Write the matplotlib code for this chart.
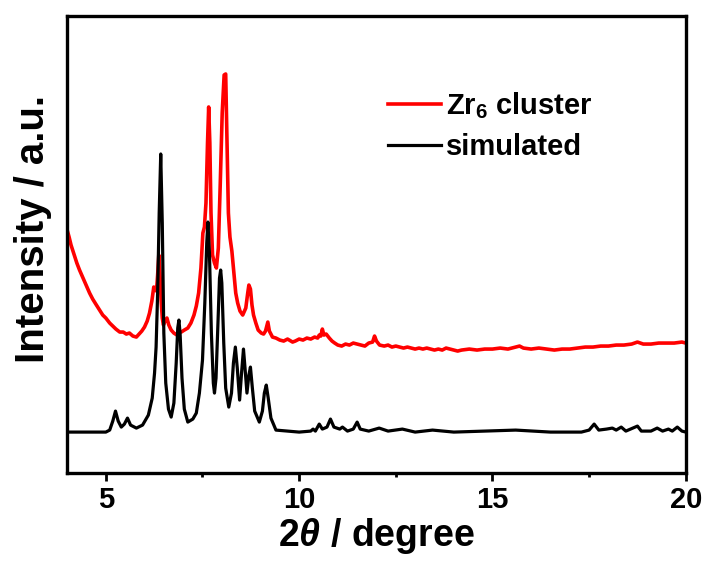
import matplotlib
matplotlib.use("Agg")
import matplotlib.pyplot as plt
from matplotlib.ticker import MultipleLocator

plt.rcParams['font.family'] = ['Liberation Sans', 'DejaVu Sans']
plt.rcParams['font.weight'] = 'bold'
plt.rcParams['mathtext.fontset'] = 'custom'
plt.rcParams['mathtext.rm'] = 'Liberation Sans:bold'
plt.rcParams['mathtext.bf'] = 'Liberation Sans:bold'
plt.rcParams['mathtext.it'] = 'Liberation Sans:italic:bold'
plt.rcParams['mathtext.bfit'] = 'Liberation Sans:italic:bold'

# simulated pattern (2theta, intensity a.u.)
sim_x = [4.0, 5.0, 5.1, 5.18, 5.25, 5.32, 5.4, 5.48, 5.56, 5.64, 5.79, 5.95,
         6.1, 6.2, 6.26, 6.3, 6.34, 6.38, 6.42, 6.46, 6.5, 6.55, 6.62, 6.69,
         6.76, 6.82, 6.86, 6.89, 6.92, 6.97, 7.03, 7.12, 7.25, 7.34, 7.42, 7.5,
         7.56, 7.61, 7.64, 7.68, 7.73, 7.78, 7.81, 7.85, 7.9, 7.94, 7.97, 8.0,
         8.05, 8.1, 8.18, 8.25, 8.3, 8.35, 8.4, 8.46, 8.51, 8.56, 8.6, 8.65,
         8.7, 8.74, 8.79, 8.85, 8.97, 9.05, 9.1, 9.15, 9.2, 9.27, 9.4, 10.0,
         10.3, 10.36, 10.42, 10.52, 10.6, 10.72, 10.81, 10.9, 11.05, 11.12,
         11.25, 11.4, 11.5, 11.58, 11.8, 12.07, 12.3, 12.67, 13.0, 13.45, 14.0,
         15.6, 16.5, 17.3, 17.5, 17.63, 17.75, 17.95, 18.1, 18.2, 18.33, 18.45,
         18.75, 18.85, 19.1, 19.26, 19.4, 19.55, 19.65, 19.78, 19.9, 20.0]
sim_y = [41, 41, 43, 52, 62, 52, 46, 49, 55, 48, 45, 48,
         58, 75, 100, 126, 180, 260, 319, 250, 140, 90, 64, 56,
         70, 110, 145, 153, 140, 95, 64, 51, 54, 60, 80, 113,
         170, 230, 251, 220, 140, 90, 80, 95, 150, 195, 203, 190,
         130, 85, 66, 80, 110, 126, 105, 73, 100, 124, 105, 80,
         98, 106, 85, 62, 51, 62, 80, 88, 75, 55, 43, 41,
         42, 44, 42, 49, 44, 46, 54, 46, 44, 46,
         42, 44, 51, 44, 42, 45, 42, 44, 41, 43, 41,
         43, 41, 41, 43, 49, 43, 44, 45, 43, 46, 42,
         47, 42, 42, 45, 42, 44, 42, 46, 42, 41]

exp_x = [4.00, 4.05, 4.10, 4.15, 4.20, 4.25, 4.32, 4.40, 4.48, 4.58, 4.66,
         4.74, 4.84, 4.92, 5.00, 5.10, 5.18, 5.26, 5.36, 5.45, 5.53, 5.61,
         5.70, 5.79, 5.86, 5.93, 6.00, 6.07, 6.13, 6.19, 6.24, 6.28, 6.31,
         6.34, 6.37, 6.40, 6.43, 6.46, 6.49, 6.53, 6.58, 6.63, 6.69, 6.76,
         6.84, 6.90, 6.95, 7.03, 7.12, 7.20, 7.28, 7.34, 7.40, 7.46, 7.51,
         7.55, 7.59, 7.63, 7.66, 7.69, 7.72, 7.76, 7.81, 7.86, 7.91, 7.96,
         8.01, 8.06, 8.10, 8.13, 8.17, 8.21, 8.26, 8.30, 8.36, 8.41, 8.47,
         8.54, 8.62, 8.67, 8.70, 8.74, 8.78, 8.82, 8.88, 8.94, 9.02, 9.08,
         9.13, 9.19, 9.23, 9.31, 9.40, 9.50, 9.60, 9.70, 9.83, 9.90, 10.0,
         10.1, 10.2, 10.3, 10.4, 10.48, 10.52, 10.56, 10.6, 10.64, 10.7,
         10.78, 10.85, 10.92, 11.0, 11.1, 11.2, 11.3, 11.4, 11.5, 11.6, 11.7,
         11.8, 11.9, 11.95, 12.0, 12.08, 12.2, 12.3, 12.4, 12.5, 12.6, 12.7,
         12.8, 12.9, 13.0, 13.1, 13.2, 13.3, 13.4, 13.5, 13.6, 13.7, 13.8,
         13.9, 14.0, 14.1, 14.2, 14.4, 14.6, 14.8, 15.0, 15.2, 15.4, 15.6,
         15.7, 15.8, 16.0, 16.2, 16.4, 16.6, 16.8, 17.0, 17.2, 17.4, 17.6,
         17.8, 18.0, 18.2, 18.4, 18.6, 18.75, 18.9, 19.1, 19.3, 19.5, 19.7,
         19.9, 20.0]
exp_y = [243, 236, 228, 222, 216, 210, 203, 196, 189, 180, 174,
         169, 163, 158, 155, 150, 147, 144, 141, 141, 139, 140,
         137, 136, 139, 142, 146, 152, 160, 172, 186, 184, 182,
         198, 218, 200, 173, 155, 148, 152, 155, 148, 143, 140,
         138, 141, 141, 143, 145, 150, 158, 167, 180, 205, 240,
         246, 270, 330, 366, 330, 260, 218, 210, 205, 225, 290,
         360, 398, 399, 340, 260, 236, 222, 205, 180, 170, 162,
         158, 165, 180, 188, 184, 168, 158, 150, 143, 140, 139,
         142, 151, 142, 136, 135, 133, 132, 134, 131, 132, 134,
         133, 135, 134, 136, 135, 138, 137, 144, 138, 139,
         135, 132, 130, 128, 127, 129, 128, 130, 129, 128, 127,
         130, 131, 137, 132, 128, 127, 128, 126, 127, 126, 125,
         126, 125, 124, 125, 124, 125, 124, 123, 124, 123, 125,
         124, 123, 122, 123, 124, 123, 124, 124, 125, 124, 126,
         127, 125, 124, 125, 124, 123, 124, 124, 125, 126, 126,
         127, 127, 128, 128, 129, 131, 129, 129, 130, 130, 130,
         131, 130]

fig = plt.figure(figsize=(7.07, 5.70), dpi=100)
ax = fig.add_axes([0.095, 0.170, 0.875, 0.802])

ax.plot(exp_x, exp_y, color='#ff0000', lw=2.6, label=r'Zr$_\mathbf{6}$ cluster')
ax.plot(sim_x, sim_y, color='black', lw=2.3, label='simulated')

ax.set_xlim(4, 20)
ax.set_ylim(0, 457)
ax.xaxis.set_major_locator(MultipleLocator(5))
ax.xaxis.set_minor_locator(MultipleLocator(2.5))
ax.tick_params(axis='x', which='major', direction='out', length=6, width=2,
               labelsize=21, pad=3)
ax.tick_params(axis='x', which='minor', direction='out', length=3, width=2)
ax.tick_params(axis='y', which='both', left=False, labelleft=False)
for s in ax.spines.values():
    s.set_linewidth(2.4)

ax.set_xlabel(r'2$\mathbfit{\theta}$ / degree', fontsize=27, fontweight='bold', labelpad=2)
ax.set_ylabel('Intensity / a.u.', fontsize=29, fontweight='bold')
ax.yaxis.set_label_coords(-0.024, 0.535)

ax.legend(loc='center left', bbox_to_anchor=(0.519, 0.76), frameon=False,
          fontsize=21, handlelength=1.8, handletextpad=0.18, labelspacing=0.4,
          borderpad=0, borderaxespad=0)

fig.savefig('out.png', dpi=100)
